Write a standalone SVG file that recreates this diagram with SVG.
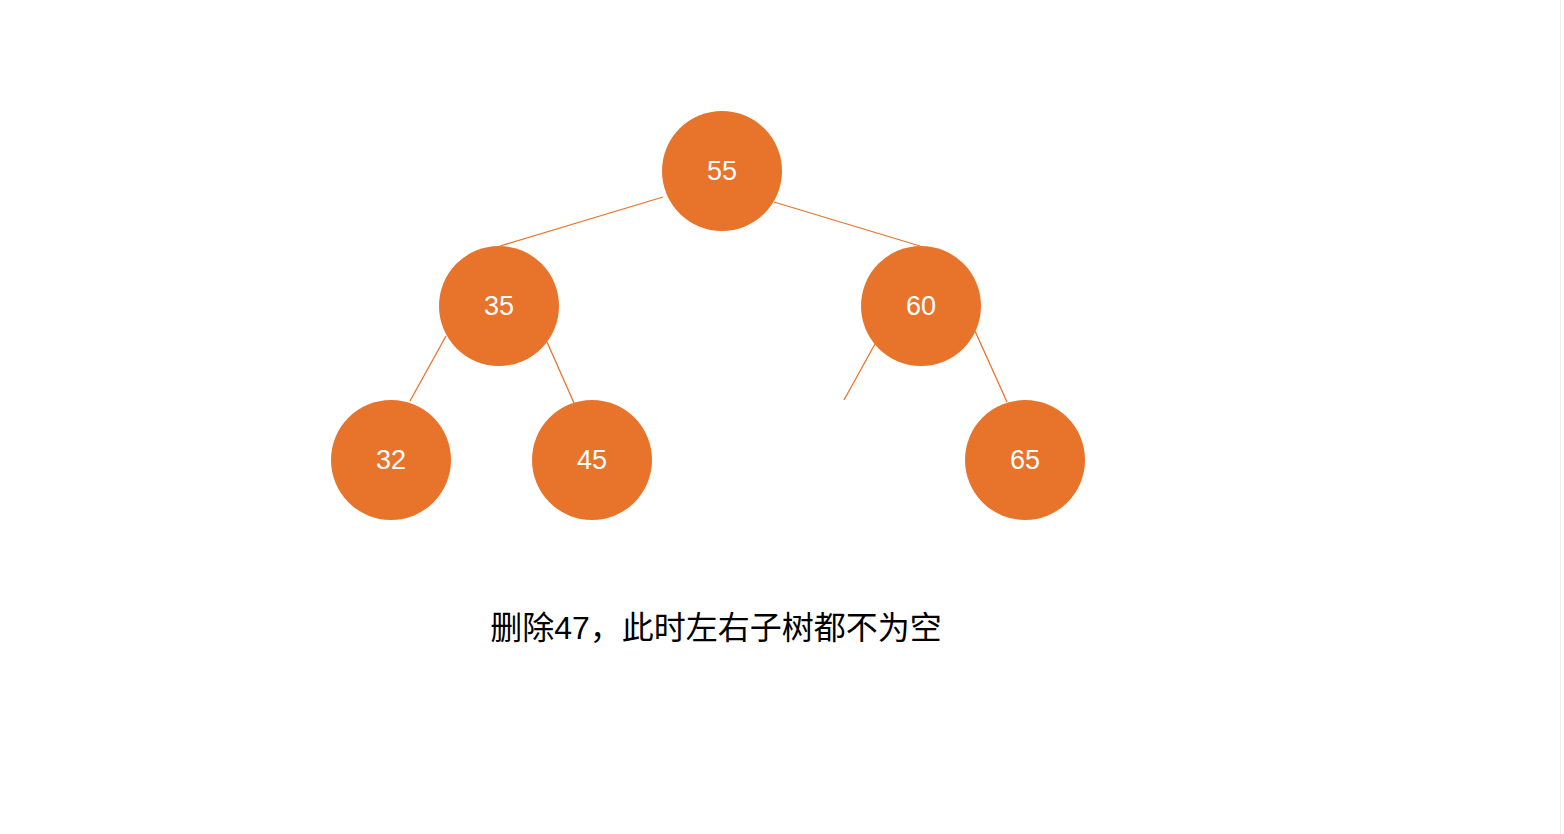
<svg xmlns="http://www.w3.org/2000/svg" width="1564" height="834" viewBox="0 0 1564 834">
<style>
.n circle{fill:#E8742B}
.n text{fill:#fff;font-family:"Liberation Sans","Noto Sans",sans-serif;font-size:27px;text-anchor:middle;dominant-baseline:central}
#edges line{stroke:#E8742B;stroke-width:1.3}
</style>
<rect width="1564" height="834" fill="#fff"/>
<line x1="1560.5" y1="0" x2="1560.5" y2="834" stroke="#eee"/>
<g id="edges">
<line x1="663" y1="197" x2="500" y2="246"/>
<line x1="774" y1="202" x2="920" y2="246"/>
<line x1="446" y1="336" x2="410" y2="401"/>
<line x1="547" y1="342" x2="574" y2="403"/>
<line x1="875" y1="344" x2="844" y2="400"/>
<line x1="975" y1="331" x2="1007" y2="402"/>
</g>
<g id="n55" class="n"><circle cx="722" cy="171" r="60"/><text x="722" y="171">55</text></g>
<g id="n35" class="n"><circle cx="499" cy="306" r="60"/><text x="499" y="306">35</text></g>
<g id="n60" class="n"><circle cx="921" cy="306" r="60"/><text x="921" y="306">60</text></g>
<g id="n32" class="n"><circle cx="391" cy="460" r="60"/><text x="391" y="460">32</text></g>
<g id="n45" class="n"><circle cx="592" cy="460" r="60"/><text x="592" y="460">45</text></g>
<g id="n65" class="n"><circle cx="1025" cy="460" r="60"/><text x="1025" y="460">65</text></g>
<text x="716" y="639" text-anchor="middle" font-family="Liberation Sans,Noto Sans CJK SC,sans-serif" font-size="32" fill="#000">删除47，此时左右子树都不为空</text>
</svg>
